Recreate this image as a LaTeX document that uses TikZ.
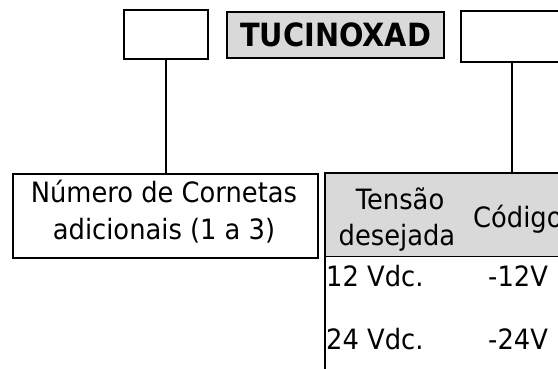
\documentclass[tikz,border=0pt]{standalone}
\usepackage{fontspec}
\setmainfont{DejaVu Sans}[FakeStretch=0.92]
\newfontfamily\titlefont{DejaVu Sans Bold}[FakeStretch=0.9]
\begin{document}
\begin{tikzpicture}[x=1pt,y=-1pt,
  box/.style={draw=black,line width=2.2pt,inner sep=0pt,anchor=north west},
  txt/.style={font=\fontsize{28}{35}\selectfont,inner sep=0pt,anchor=base},
  conn/.style={line width=2pt}]
\useasboundingbox (0,0) rectangle (558,369);
% top boxes
\node[box,minimum width=84pt,minimum height=49pt] (lb) at (123,9) {};
\node[box,fill=black!15,minimum width=217pt,minimum height=46pt,
  font=\fontsize{32}{38}\titlefont] (tb) at (226,11) {TUCINOXAD};
\node[box,minimum width=110pt,minimum height=51pt] (rb) at (460,10) {};
% text box
\node[box,minimum width=305pt,minimum height=84pt] (nb) at (12,173) {};
\node[txt] (n1) at (164,203) {Número de Cornetas};
\node[txt] (n2) at (164,240) {adicionais (1 a 3)};
% table
\fill[black!15] (325,173) rectangle (560,256);
\draw[line width=0.9pt] (325,256) -- (560,256);
\coordinate (tl) at (325,173);
\coordinate (tr) at (560,173);
\coordinate (bl) at (325,369);
\draw[line width=2.2pt] (tr) -- (tl) -- (bl);
\node[txt] (h1a) at (400,209) {Tensão};
\node[txt] (h1b) at (397,245) {desejada};
\node[txt,anchor=base west] (h2) at (473,227) {Código};
\node[txt,anchor=base west] (r1a) at (326,287) {12 Vdc.};
\node[txt,anchor=base west] (r1b) at (488,287) {-12V};
\node[txt,anchor=base west] (r2a) at (326,349) {24 Vdc.};
\node[txt,anchor=base west] (r2b) at (488,349) {-24V};
% connectors
\coordinate (tj) at (512,173);
\draw[conn] (lb.south) -- (nb.north -| lb.south);
\draw[conn] (rb.south -| tj) -- (tj);
\end{tikzpicture}
\end{document}
